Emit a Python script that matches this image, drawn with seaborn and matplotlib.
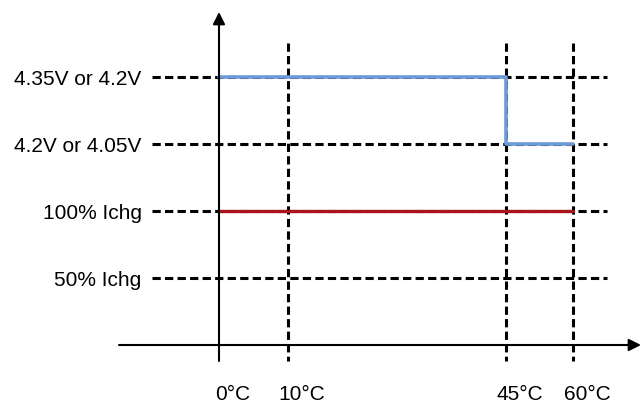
import numpy as np
import matplotlib
matplotlib.use("Agg")
import matplotlib.pyplot as plt
import seaborn as sns

# temperature breakpoints and their labels
temps = [0, 10, 45, 60]
temp_labels = ["0°C", "10°C", "45°C", "60°C"]

# level labels, from bottom (1) to top (4)
level_labels = ["50% Ichg", "100% Ichg", "4.2V or 4.05V", "4.35V or 4.2V"]

# charge voltage vs temperature (step)
volt_temps = [0, 45, 60]
volt_values = ["4.35V or 4.2V", "4.2V or 4.05V", "4.2V or 4.05V"]

# charge current vs temperature
curr_temps = [0, 60]
curr_values = ["100% Ichg", "100% Ichg"]

# layout: where the breakpoints sit across the picture (pixels)
knot_px = np.array([219.0, 288.0, 506.0, 573.0])
knot_t = np.array(temps, dtype=float)
axis_px_y = 345.0
level_step = 67.0
W, H = 642, 405


def fwd(t):
    t = np.asarray(t, dtype=float)
    out = np.interp(t, knot_t, knot_px)
    s0 = (knot_px[1] - knot_px[0]) / (knot_t[1] - knot_t[0])
    s1 = (knot_px[-1] - knot_px[-2]) / (knot_t[-1] - knot_t[-2])
    out = np.where(t < knot_t[0], knot_px[0] + (t - knot_t[0]) * s0, out)
    out = np.where(t > knot_t[-1], knot_px[-1] + (t - knot_t[-1]) * s1, out)
    return out


def inv(p):
    p = np.asarray(p, dtype=float)
    out = np.interp(p, knot_px, knot_t)
    s0 = (knot_px[1] - knot_px[0]) / (knot_t[1] - knot_t[0])
    s1 = (knot_px[-1] - knot_px[-2]) / (knot_t[-1] - knot_t[-2])
    out = np.where(p < knot_px[0], knot_t[0] + (p - knot_px[0]) / s0, out)
    out = np.where(p > knot_px[-1], knot_t[-1] + (p - knot_px[-1]) / s1, out)
    return out


def py(p):
    return (axis_px_y - p) / level_step


def level_of(label):
    return level_labels.index(label) + 1


sns.set_theme(style="white")
plt.rcParams["font.family"] = ["Liberation Sans", "DejaVu Sans"]

fig = plt.figure(figsize=(W / 100, H / 100), dpi=100)
ax = fig.add_axes([0, 0, 1, 1])
ax.set_xscale("function", functions=(fwd, inv))
ax.set_xlim(float(inv(0)), float(inv(W)))
ax.set_ylim(py(H), py(0))
ax.axis("off")

dash = (0, (2.7, 1.4))

# horizontal dashed guides with labels
for i, lab in enumerate(level_labels):
    lv = i + 1
    x0, x1 = float(inv(152)), float(inv(607))
    ax.plot([x0, x1], [lv, lv], color="black", lw=2.2, linestyle=dash, zorder=1)
    ax.annotate(lab, xy=(x0, lv), xytext=(-7.5, -5.6), textcoords="offset points",
                ha="right", va="baseline", fontsize=15, color="black")

# vertical dashed guides (not at 0, that's the axis)
for t in temps[1:]:
    ax.plot([t, t], [py(43), py(361)], color="black", lw=2.2, linestyle=dash, zorder=1)

# temperature labels
for t, lab in zip(temps, temp_labels):
    ax.annotate(lab, xy=(t, 0), xytext=(10, -42.5), textcoords="offset points",
                ha="center", va="bottom", fontsize=15, color="black")

# curves
sns.lineplot(x=volt_temps, y=[level_of(v) for v in volt_values], ax=ax,
             drawstyle="steps-post", color="#6C9CD8", lw=2.6, estimator=None,
             sort=False, zorder=3)
sns.lineplot(x=curr_temps, y=[level_of(v) for v in curr_values], ax=ax,
             color="#A8141A", lw=2.4, estimator=None, sort=False, zorder=3)

# axes with arrows
arrow = dict(arrowstyle="-|>", color="black", lw=1.5, mutation_scale=18,
             shrinkA=0, shrinkB=0)
ax.annotate("", xy=(float(inv(641)), 0), xytext=(float(inv(119)), 0),
            arrowprops=arrow, zorder=4)
ax.annotate("", xy=(0, py(12)), xytext=(0, py(361)),
            arrowprops=arrow, zorder=4)

fig.savefig("out.png", dpi=100)
